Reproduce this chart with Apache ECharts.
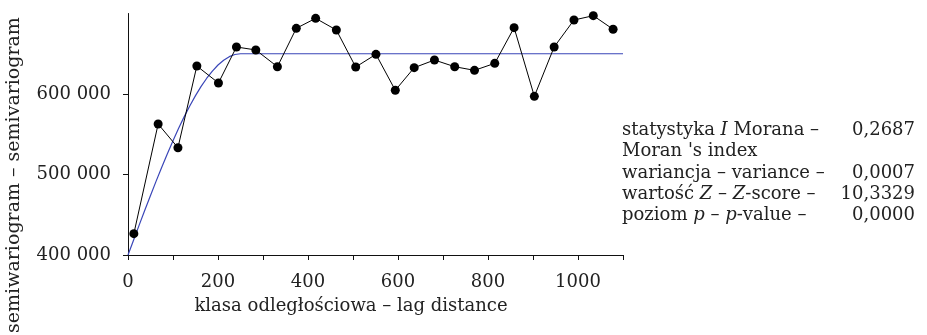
<!DOCTYPE html>
<html>
<head>
<meta charset="utf-8">
<script src="https://cdn.jsdelivr.net/npm/echarts@6/dist/echarts.min.js"></script>
<style>
  html, body { margin: 0; padding: 0; background: #fff; }
  #chart { width: 927px; height: 335px; }
</style>
</head>
<body>
<div id="chart"></div>
<script>
// Empirical semivariogram: lag distance (class centre) and semivariance
const lagDistance = [13, 67, 111, 153, 201, 241, 284, 332, 374, 417, 463, 506, 551, 594, 636, 681, 726, 770, 815, 858, 903, 947, 991, 1034, 1078];
const semivariance = [426500, 562700, 533300, 634800, 613700, 658400, 654700, 633900, 681600, 694000, 679500, 633500, 649300, 604600, 632700, 642200, 633900, 629400, 638100, 682400, 597100, 658400, 691900, 697300, 680400];

// Fitted model curve (flat sill after the range)
const modelLag = [0, 12.5, 25, 37.5, 50, 62.5, 75, 87.5, 100, 112.5, 125, 137.5, 150, 162.5, 175, 187.5, 200, 212.5, 225, 237.5, 250, 1100];
const modelValue = [400000, 418700, 437400, 455800, 474000, 491800, 509100, 525900, 542000, 557400, 571900, 585400, 598000, 609400, 619600, 628500, 636000, 642000, 646400, 649100, 650000, 650000];

// Tick labels
const xTickValues = [0, 200, 400, 600, 800, 1000];
const yTickValues = [400000, 500000, 600000];

// Moran's I summary
const statLabels = [
  '{n|statystyka }{i|I}{n| Morana –}',
  '{n|Moran \'s index}',
  '{n|wariancja – variance –}',
  '{n|wartość }{i|Z}{n| – }{i|Z}{n|-score –}',
  '{n|poziom }{i|p}{n| – }{i|p}{n|-value –}'
];
const statValues = ['0,2687', '', '0,0007', '10,3329', '0,0000'];

const FONT = '"DejaVu Serif", "Liberation Serif", serif';
const TXT = '#222';
const FS = 18;

const fmtThousands = v => String(v).replace(/\B(?=(\d{3})+(?!\d))/g, ' ');

const chart = echarts.init(document.getElementById('chart'), null, { renderer: 'canvas' });

const graphics = [];
graphics.push({
  type: 'text',
  x: 14, y: 175,
  rotation: Math.PI / 2,
  style: {
    text: 'semiwariogram – semivariogram',
    font: '19px ' + FONT,
    fill: TXT,
    align: 'center',
    verticalAlign: 'middle'
  }
});
graphics.push({
  type: 'text',
  x: 351, y: 306,
  style: {
    text: 'klasa odległościowa – lag distance',
    font: FS + 'px ' + FONT,
    fill: TXT,
    align: 'center',
    verticalAlign: 'middle'
  }
});
const rowY = [130, 151, 173, 194, 215];
statLabels.forEach((lbl, i) => {
  graphics.push({
    type: 'text',
    x: 622, y: rowY[i],
    style: {
      text: lbl,
      rich: {
        n: { font: FS + 'px ' + FONT, fill: TXT },
        i: { font: 'italic ' + FS + 'px ' + FONT, fill: TXT }
      },
      verticalAlign: 'middle',
      align: 'left'
    }
  });
  if (statValues[i]) {
    graphics.push({
      type: 'text',
      x: 915, y: rowY[i],
      style: {
        text: statValues[i],
        font: FS + 'px ' + FONT,
        fill: TXT,
        align: 'right',
        verticalAlign: 'middle'
      }
    });
  }
});

chart.setOption({
  animation: false,
  backgroundColor: '#fff',
  grid: { left: 128, right: 304, top: 13.5, bottom: 80, outerBoundsMode: 'none' },
  xAxis: {
    type: 'value',
    min: 0, max: 1100, interval: 100,
    splitLine: { show: false },
    axisLine: { lineStyle: { color: '#111', width: 1 } },
    axisTick: { show: true, inside: false, length: 5, lineStyle: { color: '#111' } },
    axisLabel: {
      margin: 18,
      color: TXT,
      fontFamily: FONT,
      fontSize: FS,
      formatter: v => (xTickValues.indexOf(v) >= 0 ? String(v) : '')
    }
  },
  yAxis: {
    type: 'value',
    min: 400000, max: 700000, interval: 100000,
    splitLine: { show: false },
    axisLine: { show: true, lineStyle: { color: '#111', width: 1 } },
    axisTick: { show: true, inside: false, length: 5, lineStyle: { color: '#111' }, customValues: yTickValues },
    axisLabel: {
      margin: 17,
      color: TXT,
      fontFamily: FONT,
      fontSize: FS,
      customValues: yTickValues,
      formatter: v => fmtThousands(v)
    }
  },
  series: [
    {
      type: 'line',
      data: modelLag.map((x, i) => [x, modelValue[i]]),
      showSymbol: false,
      lineStyle: { color: '#3a46b8', width: 1.2 },
      z: 2
    },
    {
      type: 'line',
      data: lagDistance.map((x, i) => [x, semivariance[i]]),
      symbol: 'circle',
      symbolSize: 9,
      itemStyle: { color: '#000' },
      lineStyle: { color: '#000', width: 1 },
      z: 3
    }
  ],
  graphic: graphics
});
</script>
</body>
</html>
